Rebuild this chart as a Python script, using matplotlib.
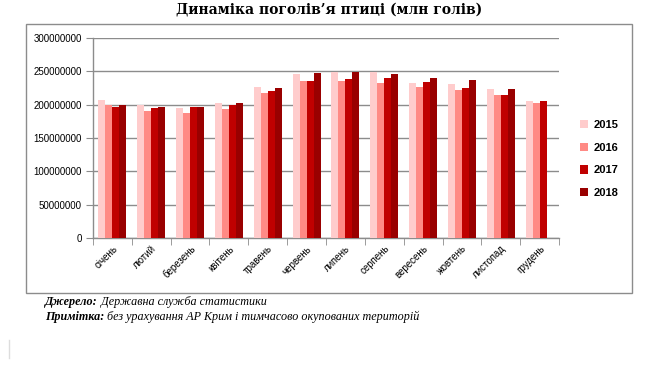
import matplotlib.pyplot as plt
from matplotlib.patches import Rectangle, Patch
import numpy as np

# Data
months = ["січень", "лютий", "березень", "квітень", "травень", "червень",
          "липень", "серпень", "вересень", "жовтень", "листопад", "грудень"]
years = ["2015", "2016", "2017", "2018"]

v2015 = [206.5, 199.0, 194.5, 202.0, 226.0, 245.5, 248.5, 248.5, 232.0, 230.5, 223.0, 205.0]
v2016 = [199.0, 190.0, 187.0, 193.0, 217.0, 235.0, 235.0, 232.0, 226.0, 221.5, 214.0, 202.0]
v2017 = [196.0, 194.5, 196.0, 199.0, 220.0, 235.0, 238.0, 239.5, 233.5, 224.5, 214.0, 205.0]
v2018 = [200.0, 197.0, 197.0, 202.0, 224.5, 247.0, 248.5, 245.5, 239.5, 236.5, 223.0, np.nan]

colors = ["#FFCCCC", "#FF8A85", "#C00000", "#990000"]

_title = "Динаміка поголів’я птиці (млн голів)"
source_label = "Джерело:"
source_text = " Державна служба статистики"
note_label = "Примітка:"
note_text = " без урахування АР Крим і тимчасово окупованих територій"

grid_color = "#8C8C8C"

fig = plt.figure(figsize=(6.5, 3.65), dpi=100)
ax = fig.add_axes([93 / 650, 1 - 238 / 365, (559 - 93) / 650, 200 / 365])

x = np.arange(len(months))
w = 0.18
series = [v2015, v2016, v2017, v2018]
for k, vals in enumerate(series):
    ax.bar(x + (k - 1.5) * w, np.array(vals) * 1e6, width=w, color=colors[k],
           label=years[k], zorder=3, linewidth=0)

ax.set_xlim(-0.5, len(months) - 0.5)
ax.set_ylim(0, 300000000)
ax.set_yticks(np.arange(0, 300000001, 50000000))
ax.set_yticklabels([str(int(v)) for v in np.arange(0, 300000001, 50000000)],
                   fontsize=7, family="Liberation Sans")
ax.yaxis.grid(True, color=grid_color, linewidth=1, zorder=0)

ax.set_xticks(x)
ax.set_xticklabels(months, rotation=45, ha="right", rotation_mode="anchor",
                   fontsize=7, family="Liberation Sans")
ax.set_xticks(np.arange(-0.5, len(months)), minor=True)
ax.tick_params(axis="x", which="major", length=0, pad=4)
ax.tick_params(axis="x", which="minor", length=5, color=grid_color, direction="out")
ax.tick_params(axis="y", length=5, color=grid_color, pad=3)

for s in ["top", "right"]:
    ax.spines[s].set_visible(False)
for s in ["left", "bottom"]:
    ax.spines[s].set_color(grid_color)
    ax.spines[s].set_linewidth(1)

# Legend at right
handles = [Patch(facecolor=c, edgecolor="none") for c in colors]
fig.legend(handles, years, loc="center left", bbox_to_anchor=(580 / 650, 1 - 159 / 365),
           frameon=False, borderaxespad=0, borderpad=0, handlelength=0.75,
           handleheight=0.75, handletextpad=0.5, labelspacing=1.15,
           prop={"family": "Liberation Sans", "weight": "bold", "size": 8})

# Chart frame
fig.patches.append(Rectangle((26 / 650, 1 - 293 / 365), 606 / 650, 269 / 365,
                             transform=fig.transFigure, fill=False,
                             edgecolor=grid_color, linewidth=1))

fig.text(329 / 650, 1 - 10 / 365, _title, ha="center", va="center",
         fontsize=10, weight="bold", family="DejaVu Serif")

# Footer notes: bold italic label followed by italic text
fig.canvas.draw()
renderer = fig.canvas.get_renderer()
for label, text, ypx in [(source_label, source_text, 302), (note_label, note_text, 317)]:
    t1 = fig.text(45 / 650, 1 - ypx / 365, label, ha="left", va="center",
                  fontsize=8.7, style="italic", weight="bold", family="Liberation Serif")
    bb = t1.get_window_extent(renderer)
    fig.text(bb.x1 / fig.bbox.width, 1 - ypx / 365, text, ha="left", va="center",
             fontsize=8.7, style="italic", family="Liberation Serif")

# faint cursor mark at bottom-left
fig.add_artist(plt.Line2D([9 / 650, 9 / 650], [1 - 358 / 365, 1 - 340 / 365],
                          color="#DDDDDD", linewidth=1, transform=fig.transFigure))

fig.savefig("out.png", dpi=100)
